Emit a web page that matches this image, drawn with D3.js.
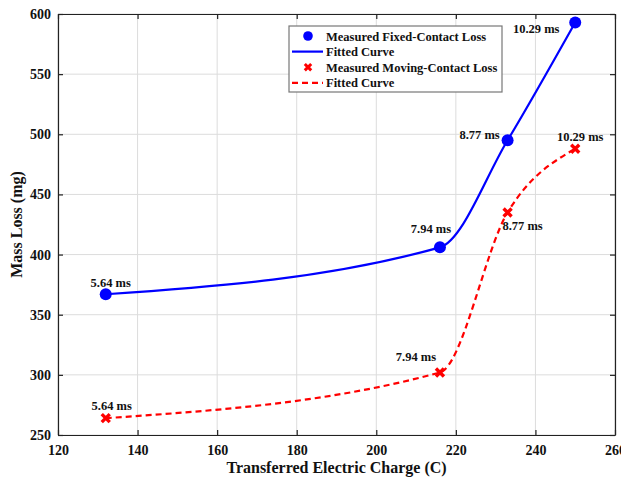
<!DOCTYPE html>
<html>
<head>
<meta charset="utf-8">
<script src="https://cdn.jsdelivr.net/npm/d3@7"></script>
<style>
  body { margin: 0; background: #fff; }
  text { font-family: "Liberation Serif", "Times New Roman", serif; font-weight: bold; fill: #111; }
</style>
</head>
<body>
<div id="chart"></div>
<script>
// measured points (transferred charge in C, mass loss in mg)
let charge = [132, 216, 233, 250];
let fixedLoss = [367, 406, 495, 593];
let movingLoss = [264, 302, 435, 488];
let arcTimes = ["5.64 ms", "7.94 ms", "8.77 ms", "10.29 ms"];
let xTicks = [120, 140, 160, 180, 200, 220, 240, 260];
let yTicks = [250, 300, 350, 400, 450, 500, 550, 600];

// label offsets from each point (px, text centre x / baseline y), fixed then moving
let fixedLabelPos = [[5, -7], [-9, -14.5], [-28, -1.5], [-39, 11]];
let movingLabelPos = [[6, -8.5], [-24, -11], [15, 18], [5, -7.5]];

let margin = { top: 14, right: 6, bottom: 42, left: 58 },
    width = 621 - margin.left - margin.right,
    height = 477 - margin.top - margin.bottom;

let svg = d3.select("#chart")
    .append("svg")
    .attr("width", 621)
    .attr("height", 477)
    .append("g")
    .attr("transform", "translate(" + margin.left + "," + margin.top + ")");

let x = d3.scaleLinear().domain([120, 260]).range([0, width]);
let y = d3.scaleLinear().domain([250, 600]).range([height, 0]);

// grid
svg.append("g").selectAll("line").data(xTicks).join("line")
    .attr("x1", d => x(d)).attr("x2", d => x(d))
    .attr("y1", 0).attr("y2", height)
    .attr("stroke", "#dcdcdc").attr("stroke-width", 1);
svg.append("g").selectAll("line").data(yTicks).join("line")
    .attr("x1", 0).attr("x2", width)
    .attr("y1", d => y(d)).attr("y2", d => y(d))
    .attr("stroke", "#dcdcdc").attr("stroke-width", 1);

// axes with inward ticks, box around
function styleAxis(g) {
    g.selectAll(".domain").attr("stroke", "#222").attr("stroke-width", 1.2);
    g.selectAll(".tick line").attr("stroke", "#222").attr("stroke-width", 1.2);
    g.selectAll("text").style("font-size", "14px").attr("fill", "#111");
}
svg.append("g")
    .attr("transform", "translate(0," + height + ")")
    .call(d3.axisBottom(x).tickValues(xTicks).tickSizeInner(-5).tickSizeOuter(0).tickPadding(10))
    .call(styleAxis);
svg.append("g")
    .call(d3.axisLeft(y).tickValues(yTicks).tickSizeInner(-5).tickSizeOuter(0).tickPadding(7))
    .call(styleAxis);
svg.append("g")
    .call(d3.axisTop(x).tickValues(xTicks).tickSizeInner(-5).tickSizeOuter(0).tickFormat(""))
    .call(styleAxis);
svg.append("g")
    .attr("transform", "translate(" + width + ",0)")
    .call(d3.axisRight(y).tickValues(yTicks).tickSizeInner(-5).tickSizeOuter(0).tickFormat(""))
    .call(styleAxis);

// axis titles
svg.append("text")
    .attr("x", width / 2)
    .attr("y", height + 38)
    .attr("text-anchor", "middle")
    .style("font-size", "16px")
    .text("Transferred Electric Charge (C)");
svg.append("text")
    .attr("transform", "translate(-36," + (height / 2) + ") rotate(-90)")
    .attr("text-anchor", "middle")
    .style("font-size", "16px")
    .text("Mass Loss (mg)");

let fixedData = charge.map((c, i) => ({ x: c, y: fixedLoss[i], t: arcTimes[i], p: fixedLabelPos[i] }));
let movingData = charge.map((c, i) => ({ x: c, y: movingLoss[i], t: arcTimes[i], p: movingLabelPos[i] }));

let line = d3.line().x(d => x(d.x)).y(d => y(d.y)).curve(d3.curveMonotoneX);

// fitted curves
svg.append("path").datum(fixedData)
    .attr("d", line).attr("fill", "none")
    .attr("stroke", "#0000ff").attr("stroke-width", 2.2);
svg.append("path").datum(movingData)
    .attr("d", line).attr("fill", "none")
    .attr("stroke", "#ff0000").attr("stroke-width", 2.2)
    .attr("stroke-dasharray", "6,4");

// markers
let cross = "M-4,-4L4,4M-4,4L4,-4";
let crossSmall = "M-3.2,-3.2L3.2,3.2M-3.2,3.2L3.2,-3.2";
svg.append("g").selectAll("circle").data(fixedData).join("circle")
    .attr("cx", d => x(d.x)).attr("cy", d => y(d.y)).attr("r", 6)
    .attr("fill", "#0000ff");
svg.append("g").selectAll("path").data(movingData).join("path")
    .attr("transform", d => "translate(" + x(d.x) + "," + y(d.y) + ")")
    .attr("d", cross).attr("stroke", "#ff0000").attr("stroke-width", 3.4);

// point labels
svg.append("g").selectAll("text").data(fixedData.concat(movingData)).join("text")
    .attr("x", d => x(d.x) + d.p[0])
    .attr("y", d => y(d.y) + d.p[1])
    .attr("text-anchor", "middle")
    .style("font-size", "12.5px")
    .text(d => d.t);

// legend
let legendItems = [
    { name: "Measured Fixed-Contact Loss", type: "circle", color: "#0000ff" },
    { name: "Fitted Curve", type: "line", color: "#0000ff" },
    { name: "Measured Moving-Contact Loss", type: "cross", color: "#ff0000" },
    { name: "Fitted Curve", type: "dash", color: "#ff0000" }
];
let legend = svg.append("g").attr("transform", "translate(" + (289 - margin.left) + "," + (26 - margin.top) + ")");
legend.append("rect")
    .attr("width", 213).attr("height", 66)
    .attr("fill", "#fff").attr("stroke", "#777").attr("stroke-width", 1.2);
legendItems.forEach((d, i) => {
    let ly = 10 + i * 15.6;
    if (d.type === "circle") {
        legend.append("circle").attr("cx", 19).attr("cy", ly).attr("r", 4.8).attr("fill", d.color);
    } else if (d.type === "cross") {
        legend.append("path").attr("transform", "translate(19," + ly + ")")
            .attr("d", crossSmall).attr("stroke", d.color).attr("stroke-width", 3);
    } else {
        legend.append("line").attr("x1", 3).attr("x2", 34).attr("y1", ly).attr("y2", ly)
            .attr("stroke", d.color).attr("stroke-width", 2.2)
            .attr("stroke-dasharray", d.type === "dash" ? "6,4" : null);
    }
    legend.append("text").attr("x", 37).attr("y", ly + 4.5)
        .style("font-size", "12.5px").text(d.name);
});
</script>
</body>
</html>
